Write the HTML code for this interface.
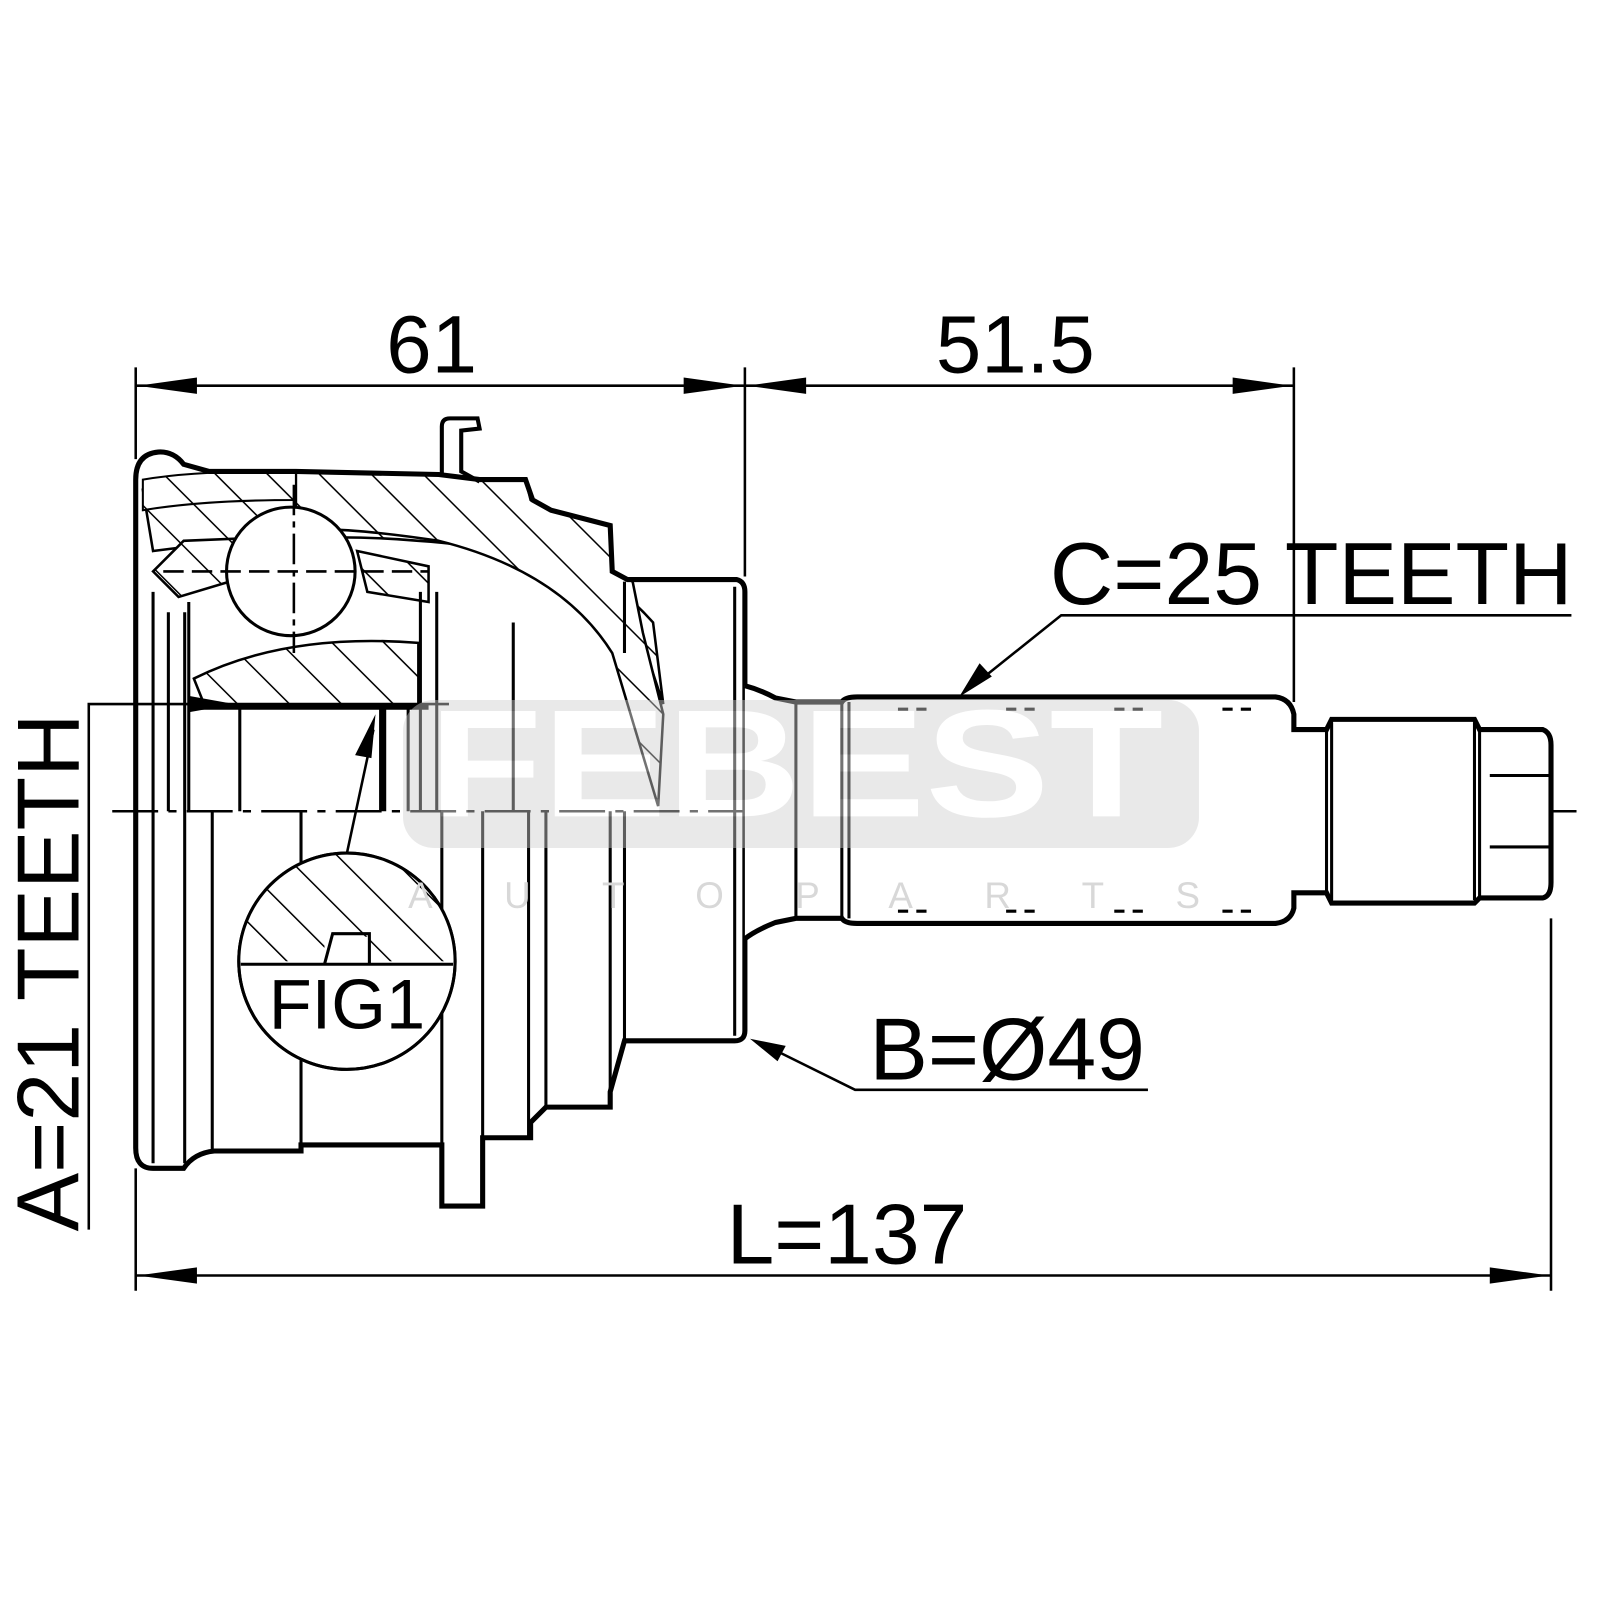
<!DOCTYPE html>
<html><head><meta charset="utf-8"><style>
html,body{margin:0;padding:0;background:#fff;width:1600px;height:1600px;overflow:hidden}
svg{display:block}
text{font-family:"Liberation Sans",Arial,sans-serif;fill:#000}
</style></head><body>
<svg width="1600" height="1600" viewBox="0 0 1600 1600" xmlns="http://www.w3.org/2000/svg">
<defs>
<pattern id="h" patternUnits="userSpaceOnUse" width="36" height="36" patternTransform="rotate(-45)">
<rect width="36" height="36" fill="#fff"/><line x1="0" y1="0" x2="0" y2="36" stroke="#000" stroke-width="3"/>
</pattern>
</defs>
<g transform="scale(1.0204)">

<g stroke="#000" fill="none" stroke-width="3">
<!-- dimension top -->
<line x1="133" y1="360" x2="133" y2="450" stroke-width="2.5"/>
<line x1="730" y1="360" x2="730" y2="565" stroke-width="2.5"/>
<line x1="1268" y1="360" x2="1268" y2="688" stroke-width="2.5"/>
<line x1="133" y1="378" x2="1268" y2="378" stroke-width="2.5"/>
<!-- bottom dimension -->
<line x1="133" y1="1145" x2="133" y2="1265" stroke-width="2.5"/>
<line x1="1520" y1="900" x2="1520" y2="1265" stroke-width="2.5"/>
<line x1="133" y1="1250" x2="1520" y2="1250" stroke-width="2.5"/>
<!-- A leader -->
<polyline points="87,1205 87,690 440,690" stroke-width="2.5"/>

<!-- centerline -->
<line x1="110" y1="795" x2="1545" y2="795" stroke-width="2.5" stroke-dasharray="45,10,8,10"/>

<!-- housing hatched upper body -->
<path d="M140,480 Q250,470 400,490 Q560,520 640,610 L650,690 L620,600 Q560,540 410,530 Q300,520 150,540 Z" fill="url(#h)" stroke-width="2.5"/>
<path d="M290,463 L430,465 L470,470 L515,470 L520,490 L540,500 L598,515 L600,560 L620,570 L630,620 L650,700 L645,790 L600,640 Q550,560 430,530 Q330,515 290,520 Z" fill="url(#h)" stroke-width="2.5"/>
<path d="M150,560 L180,530 L230,528 L225,570 L175,585 Z" fill="url(#h)" stroke-width="2.5"/>
<path d="M350,540 L420,555 L420,590 L360,580 Z" fill="url(#h)" stroke-width="2.5"/>
<path d="M190,665 Q280,620 410,630 L410,690 L200,690 Z" fill="url(#h)" stroke-width="2.5"/>
<path d="M140,470 Q200,460 290,463 L290,490 Q200,490 140,500 Z" fill="url(#h)" stroke-width="2"/>

<!-- housing outline -->
<path d="M133,790 L133,470 Q133,445 155,443 Q170,442 180,455 L205,462 L290,462 L430,465 L470,470 L515,470 L522,490 L540,500 L598,515 L600,560 L615,568 L722,568 Q730,570 730,580 L730,1010 Q730,1020 720,1020 L612,1020 L598,1070 L598,1085 L535,1085 L520,1100 L520,1115 L473,1115 L473,1182 L433,1182 L433,1122 L295,1122 L295,1128 L210,1128 Q190,1130 180,1145 L150,1145 Q133,1145 133,1125 Z" stroke-width="5"/>
<path d="M433,465 L433,418 Q433,410 441,410 L468,410 L470,420 L452,422 L452,462 L470,472" stroke-width="4"/>
<!-- lower internal verticals -->
<g stroke-width="3">
<line x1="150" y1="580" x2="150" y2="1140"/>
<line x1="181" y1="600" x2="181" y2="1140"/>
<line x1="208" y1="795" x2="208" y2="1128"/>
<line x1="295" y1="795" x2="295" y2="1122"/>
<line x1="433" y1="795" x2="433" y2="1122"/>
<line x1="473" y1="795" x2="473" y2="1115"/>
<line x1="518" y1="795" x2="518" y2="1115"/>
<line x1="535" y1="795" x2="535" y2="1085"/>
<line x1="598" y1="795" x2="598" y2="1085"/>
<line x1="612" y1="795" x2="612" y2="1020"/>
<line x1="720" y1="575" x2="720" y2="1015"/>
<line x1="612" y1="570" x2="612" y2="640"/>
<line x1="185" y1="590" x2="185" y2="795"/>
<line x1="165" y1="600" x2="165" y2="795"/>
<line x1="235" y1="695" x2="235" y2="795"/>
<line x1="400" y1="695" x2="400" y2="795"/>
<line x1="412" y1="580" x2="412" y2="795"/>
<line x1="428" y1="580" x2="428" y2="795"/>
<line x1="503" y1="610" x2="503" y2="795"/>
<line x1="375" y1="695" x2="375" y2="795" stroke-width="7"/>
<line x1="190" y1="693" x2="420" y2="693" stroke-width="5"/>
</g>
<!-- ball -->
<circle cx="285" cy="560" r="63" fill="#fff" stroke-width="3"/>
<line x1="288" y1="475" x2="288" y2="640" stroke-width="2.5" stroke-dasharray="30,6,6,6"/>
<line x1="160" y1="560" x2="420" y2="560" stroke-width="2.5" stroke-dasharray="20,8"/>

<!-- shaft -->
<path d="M730,672 Q745,676 760,684 L780,688 L825,688 Q828,683 840,683 L1250,683 Q1265,685 1268,700 L1268,715 L1300,715 L1305,705 L1445,705 L1450,715 L1512,715 Q1520,718 1520,730 L1520,865 Q1520,878 1512,880 L1450,880 L1445,885 L1305,885 L1300,875 L1268,875 L1268,890 Q1265,903 1250,905 L840,905 Q828,905 825,900 L780,900 L760,904 Q740,912 730,920" stroke-width="5" fill="#fff"/>
<line x1="780" y1="688" x2="780" y2="900"/>
<line x1="825" y1="688" x2="825" y2="900"/>
<line x1="832" y1="688" x2="832" y2="900"/>
<line x1="1300" y1="715" x2="1300" y2="875"/>
<line x1="1305" y1="708" x2="1305" y2="882"/>
<line x1="1445" y1="708" x2="1445" y2="882"/>
<line x1="1450" y1="715" x2="1450" y2="880"/>
<line x1="1460" y1="760" x2="1520" y2="760"/>
<line x1="1460" y1="830" x2="1520" y2="830"/>
<line x1="1520" y1="795" x2="1545" y2="795" stroke-width="2.5"/>
<line x1="880" y1="695" x2="1250" y2="695" stroke-width="3" stroke-dasharray="10,8,10,78"/>
<line x1="880" y1="893" x2="1250" y2="893" stroke-width="3" stroke-dasharray="10,8,10,78"/>

<!-- FIG1 -->
<circle cx="340" cy="942" r="106" fill="#fff" stroke-width="3"/>
<path d="M234,942 A106,106 0 0 1 446,942 Z" fill="url(#h)" stroke="none"/>
<circle cx="340" cy="942" r="106" stroke-width="3"/>
<rect x="318" y="918" width="44" height="25" fill="#fff" stroke="none"/>
<path d="M318,945 L326,915 L362,915 L362,945" stroke-width="3"/>
<line x1="236" y1="945" x2="444" y2="945" stroke-width="3"/>
<line x1="340" y1="836" x2="366" y2="715" stroke-width="2.5"/>

<!-- leaders -->
<polyline points="1540,603 1040,603 950,675" stroke-width="2.5"/>
<polyline points="1125,1068 838,1068 745,1022" stroke-width="2.5"/>
</g>

<!-- arrowheads -->
<g fill="#000">
<polygon points="135,378 193,370 193,386"/>
<polygon points="728,378 670,370 670,386"/>
<polygon points="732,378 790,370 790,386"/>
<polygon points="1266,378 1208,370 1208,386"/>
<polygon points="135,1250 193,1242 193,1258"/>
<polygon points="1518,1250 1460,1242 1460,1258"/>
<polygon points="230,690 185,682 185,698"/>
<polygon points="368,700 348,740 364,743"/>
<polygon points="940,683 960,650 972,663"/>
<polygon points="735,1018 770,1025 762,1040"/>
</g>

<!-- watermark overlay -->
<g opacity="0.45">
<rect x="395" y="686" width="780" height="145" rx="30" fill="#cfcfcf"/>
<text x="420" y="800" font-size="150" font-weight="bold" style="fill:#fff" textLength="720" lengthAdjust="spacingAndGlyphs">FEBEST</text>
</g>
<text x="400" y="890" font-size="36" style="fill:#d8d8d8" letter-spacing="70">AUTOPARTS</text>

<!-- labels -->
<text x="423" y="365" font-size="80" text-anchor="middle">61</text>
<text x="995" y="365" font-size="80" text-anchor="middle">51.5</text>
<text x="1285" y="592" font-size="86" text-anchor="middle">C=25 TEETH</text>
<text x="987" y="1058" font-size="86" text-anchor="middle">B=Ø49</text>
<text x="830" y="1238" font-size="84" text-anchor="middle">L=137</text>
<text x="340" y="1008" font-size="69" text-anchor="middle">FIG1</text>
<text transform="translate(77,953) rotate(-90)" font-size="86" text-anchor="middle">A=21 TEETH</text>
</g>
</svg>
</body></html>
